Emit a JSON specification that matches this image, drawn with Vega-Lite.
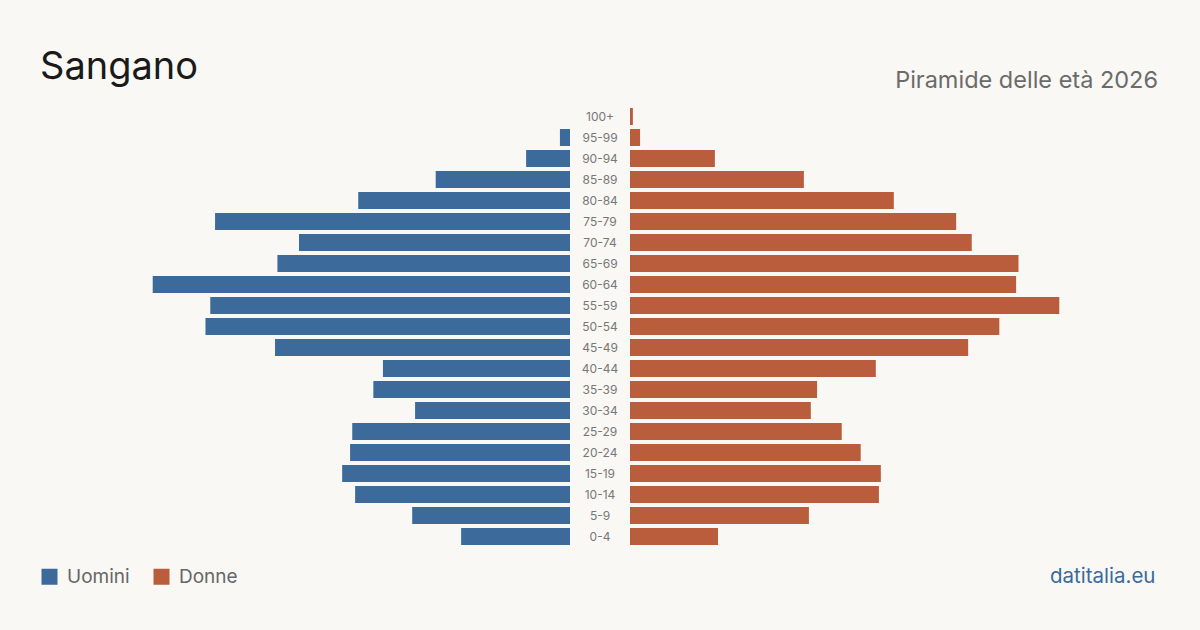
{
  "$schema": "https://vega.github.io/schema/vega-lite/v6.json",
  "background": "#f9f8f4",
  "padding": {"left": 40, "right": 40, "top": 48, "bottom": 44},
  "config": {"view": {"stroke": null}, "font": "Inter"},
  "data": {"values": [
    {"age": "100+", "men": 0, "women": 1.2},
    {"age": "95-99", "men": 4.2, "women": 4.2},
    {"age": "90-94", "men": 18.3, "women": 35.4},
    {"age": "85-89", "men": 56, "women": 72.5},
    {"age": "80-84", "men": 88.3, "women": 110},
    {"age": "75-79", "men": 148, "women": 136},
    {"age": "70-74", "men": 113, "women": 142.5},
    {"age": "65-69", "men": 122, "women": 162},
    {"age": "60-64", "men": 174, "women": 161},
    {"age": "55-59", "men": 150, "women": 179},
    {"age": "50-54", "men": 152, "women": 154},
    {"age": "45-49", "men": 123, "women": 141},
    {"age": "40-44", "men": 78, "women": 102.5},
    {"age": "35-39", "men": 82, "women": 78},
    {"age": "30-34", "men": 64.6, "women": 75.4},
    {"age": "25-29", "men": 90.8, "women": 88.3},
    {"age": "20-24", "men": 91.7, "women": 96.2},
    {"age": "15-19", "men": 95, "women": 104.6},
    {"age": "10-14", "men": 89.6, "women": 103.8},
    {"age": "5-9", "men": 65.8, "women": 74.6},
    {"age": "0-4", "men": 45.4, "women": 36.7}
  ]},
  "spacing": 0,
  "hconcat": [
    {
      "width": 530, "height": 441,
      "title": {"text": "Sangano", "anchor": "start", "fontSize": 38, "fontWeight": "normal", "color": "#1a1a1a", "baseline": "alphabetic", "offset": -10.5},
      "mark": {"type": "bar"},
      "encoding": {
        "y": {"field": "age", "type": "nominal", "sort": ["100+","95-99","90-94","85-89","80-84","75-79","70-74","65-69","60-64","55-59","50-54","45-49","40-44","35-39","30-34","25-29","20-24","15-19","10-14","5-9","0-4"], "axis": null, "scale": {"paddingInner": 0.19, "paddingOuter": 0.095}},
        "x": {"field": "men", "type": "quantitative", "scale": {"domain": [0, 221], "reverse": true}, "axis": null},
        "color": {"datum": "Uomini", "type": "nominal", "scale": {"domain": ["Uomini", "Donne"], "range": ["#3b6a9b", "#b95d3c"]},
          "legend": {"title": null, "orient": "none", "legendX": 0, "legendY": 461, "direction": "horizontal", "symbolType": "square", "symbolSize": 256, "symbolStrokeWidth": 0, "labelFontSize": 19, "labelColor": "#666666", "columnPadding": 22, "labelOffset": 8}}
      }
    },
    {
      "width": 60, "height": 441,
      "mark": {"type": "text", "fontSize": 12, "color": "#777777"},
      "encoding": {
        "y": {"field": "age", "type": "nominal", "sort": ["100+","95-99","90-94","85-89","80-84","75-79","70-74","65-69","60-64","55-59","50-54","45-49","40-44","35-39","30-34","25-29","20-24","15-19","10-14","5-9","0-4"], "axis": null, "scale": {"paddingInner": 0.19, "paddingOuter": 0.095}},
        "text": {"field": "age"}
      }
    },
    {
      "width": 530, "height": 441,
      "title": {"text": "Piramide delle età 2026", "anchor": "end", "fontSize": 23.5, "fontWeight": "normal", "color": "#6b6b6b", "baseline": "alphabetic", "offset": -5.5, "dx": -2},
      "mark": {"type": "bar"},
      "encoding": {
        "y": {"field": "age", "type": "nominal", "sort": ["100+","95-99","90-94","85-89","80-84","75-79","70-74","65-69","60-64","55-59","50-54","45-49","40-44","35-39","30-34","25-29","20-24","15-19","10-14","5-9","0-4"], "axis": null, "scale": {"paddingInner": 0.19, "paddingOuter": 0.095}},
        "x": {"field": "women", "type": "quantitative", "scale": {"domain": [0, 221]},
          "axis": {"labels": false, "ticks": false, "domain": false, "grid": false, "title": "datitalia.eu", "titleAnchor": "end", "titleX": 525, "titleAlign": "right", "titleColor": "#3b6a9b", "titleFontSize": 20.5, "titleFontWeight": "normal", "titleBaseline": "alphabetic", "titlePadding": 35}},
        "color": {"datum": "Donne", "type": "nominal"}
      }
    }
  ]
}
